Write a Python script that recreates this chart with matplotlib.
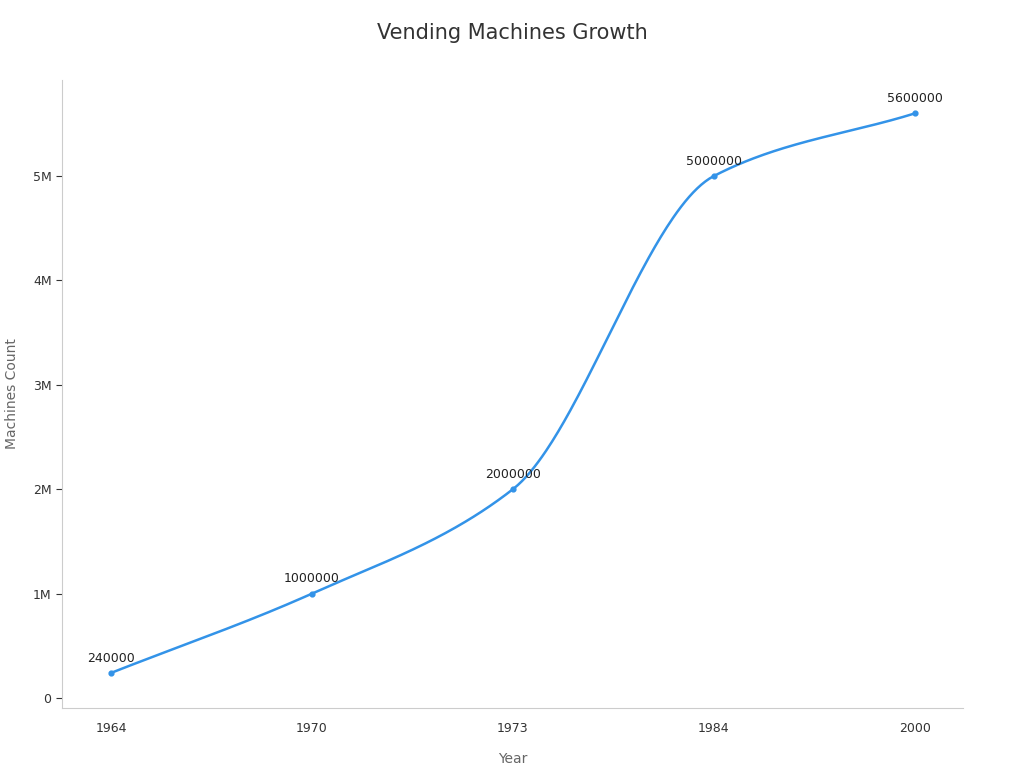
import matplotlib.pyplot as plt
import numpy as np

years = ["1964", "1970", "1973", "1984", "2000"]
counts = [240000, 1000000, 2000000, 5000000, 5600000]


def pchip(x, y, xs):
    x = np.asarray(x, float); y = np.asarray(y, float)
    h = np.diff(x); d = np.diff(y) / h
    m = np.zeros_like(y)
    for k in range(1, len(y) - 1):
        if d[k - 1] * d[k] > 0:
            w1 = 2 * h[k] + h[k - 1]; w2 = h[k] + 2 * h[k - 1]
            m[k] = (w1 + w2) / (w1 / d[k - 1] + w2 / d[k])
    m[0] = d[0]; m[-1] = d[-1]
    out = np.empty_like(xs)
    for i, xv in enumerate(xs):
        k = min(np.searchsorted(x, xv, side="right") - 1, len(h) - 1)
        t = (xv - x[k]) / h[k]
        h00 = 2 * t**3 - 3 * t**2 + 1; h10 = t**3 - 2 * t**2 + t
        h01 = -2 * t**3 + 3 * t**2; h11 = t**3 - t**2
        out[i] = h00 * y[k] + h10 * h[k] * m[k] + h01 * y[k + 1] + h11 * h[k] * m[k + 1]
    return out


fig = plt.figure(figsize=(10.24, 7.68), dpi=100, facecolor="white")
ax = fig.add_axes([62 / 1024, 60 / 768, 901 / 1024, 628 / 768])

pos = np.arange(len(years))
xs = np.linspace(0, len(years) - 1, 400)
color = "#3393e8"
ax.plot(xs, pchip(pos, counts, xs), color=color, lw=1.8)
ax.scatter(pos, counts, color=color, s=12, zorder=3)
for p, v in zip(pos, counts):
    ax.annotate(str(v), (p, v), xytext=(0, 6), textcoords="offset points",
                ha="center", va="bottom", fontsize=9, color="#222222")

ax.set_xlim(-0.244, len(years) - 1 + 0.24)
ax.set_ylim(-96000, 5920000)
ax.set_xticks(pos)
ax.set_xticklabels(years)
ax.set_yticks([0, 1e6, 2e6, 3e6, 4e6, 5e6])
ax.set_yticklabels(["0", "1M", "2M", "3M", "4M", "5M"])
ax.tick_params(labelsize=9, colors="#333333", length=4)
ax.tick_params(axis="x", length=0, pad=10)
for s in ["top", "right"]:
    ax.spines[s].set_visible(False)
for s in ["left", "bottom"]:
    ax.spines[s].set_color("#cccccc")
ax.set_xlabel("Year", fontsize=10, color="#666666", labelpad=12)
ax.set_ylabel("Machines Count", fontsize=10, color="#666666", labelpad=10)
fig.text(0.5, 0.957, "Vending Machines Growth", ha="center", va="center",
         fontsize=15, color="#333333")
fig.savefig("out.png", dpi=100)
